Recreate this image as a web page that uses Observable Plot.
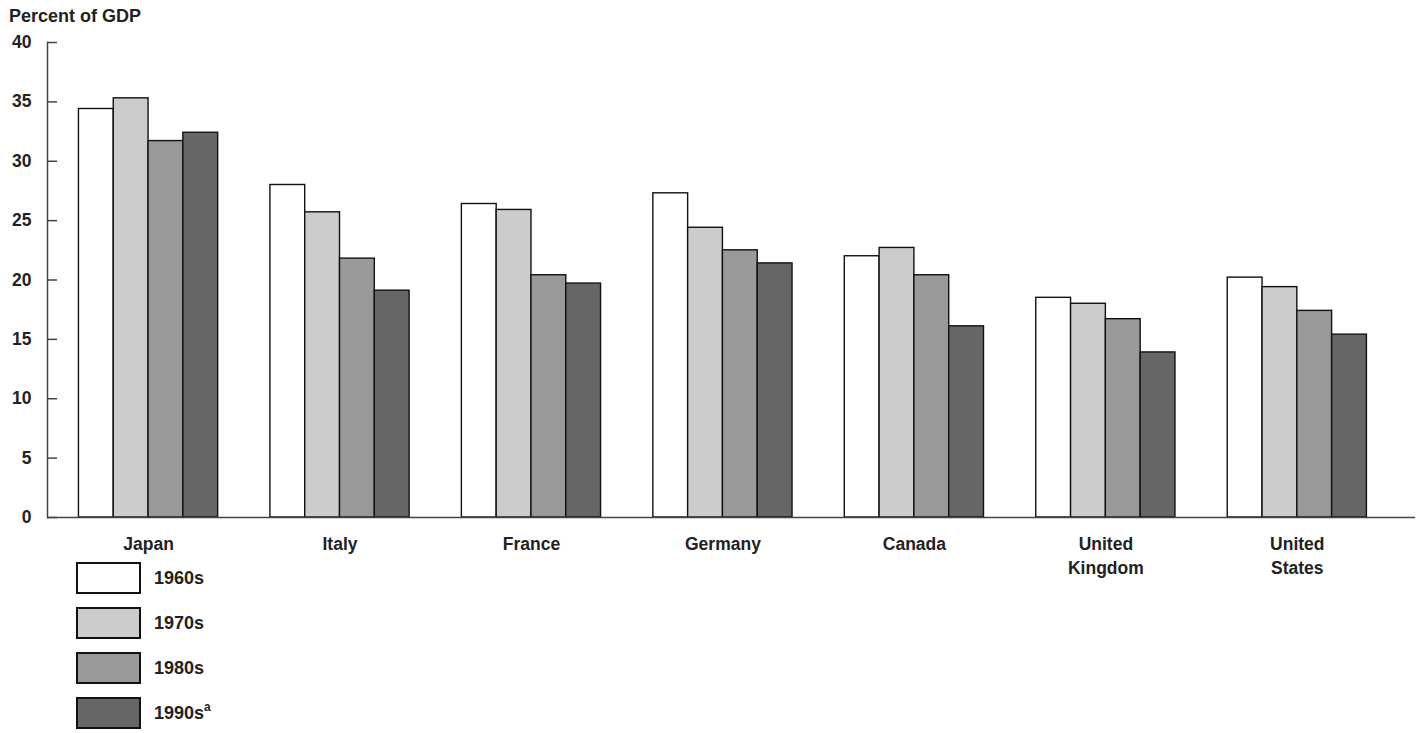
<!DOCTYPE html>
<html>
<head>
<meta charset="utf-8">
<script src="https://cdn.jsdelivr.net/npm/d3@7"></script>
<script src="https://cdn.jsdelivr.net/npm/@observablehq/plot@0.6"></script>
<style>
  html, body { margin: 0; padding: 0; background: #fff; }
  body { font-family: "Liberation Sans", Arial, Helvetica, sans-serif; color: #222; width: 1422px; }
  #title { font-size: 18px; font-weight: bold; line-height: 20px; height: 20px; padding: 6px 0 0 9px; }
  #legend { margin-left: 76px; }
  .row { display: flex; align-items: flex-start; height: 45px; }
  .sw { width: 65px; height: 32px; box-sizing: border-box; border: 2px solid #111; }
  .lab { margin-left: 13px; font-size: 18px; font-weight: bold; line-height: 32px; }
  .lab sup { font-size: 12px; vertical-align: 8px; line-height: 0; }
</style>
</head>
<body>
<div id="title">Percent of GDP</div>
<div id="chart"></div>
<div id="legend"></div>
<script>
const countries = ["Japan", "Italy", "France", "Germany", "Canada", "United Kingdom", "United States"];
const decades = ["1960s", "1970s", "1980s", "1990s"];
const decadeLabels = ["1960s", "1970s", "1980s", "1990s<sup>a</sup>"];
const v1960s = [34.4, 28.0, 26.4, 27.3, 22.0, 18.5, 20.2];
const v1970s = [35.3, 25.7, 25.9, 24.4, 22.7, 18.0, 19.4];
const v1980s = [31.7, 21.8, 20.4, 22.5, 20.4, 16.7, 17.4];
const v1990s = [32.4, 19.1, 19.7, 21.4, 16.1, 13.9, 15.4];
const colors = ["#ffffff", "#cccccc", "#999999", "#666666"];
const yTicks = [0, 5, 10, 15, 20, 25, 30, 35, 40];

const series = [v1960s, v1970s, v1980s, v1990s];
const data = [];
decades.forEach((dec, i) => countries.forEach((c, j) => data.push({country: c, decade: dec, value: series[i][j]})));

const W = 1422, H = 536;
const mL = 47, mR = 7, mT = 16, mB = 45;
const xOpts = {type: "band", domain: countries, range: [mL, W - mR], paddingInner: 0.273, paddingOuter: 0.209, align: 0.393, round: false};
const bw = Plot.scale({x: xOpts}).bandwidth;
const sub = bw / decades.length;

const marks = [];
decades.forEach((dec, i) => {
  marks.push(Plot.barY(data.filter(d => d.decade === dec), {
    x: "country", y: "value", fill: "decade",
    stroke: "#111", strokeWidth: 1.4,
    insetLeft: i * sub, insetRight: (decades.length - 1 - i) * sub
  }));
});

const chart = Plot.plot({
  width: W, height: H,
  marginLeft: mL, marginRight: mR, marginTop: mT, marginBottom: mB,
  style: {fontFamily: "Liberation Sans, Arial, sans-serif", overflow: "visible", background: "transparent"},
  x: {domain: countries, paddingInner: 0.273, paddingOuter: 0.209, align: 0.393, round: false, axis: null},
  y: {domain: [0, 40], axis: null},
  color: {domain: decades, range: colors},
  marks: [
    ...marks,
    Plot.ruleY([0], {stroke: "#444", strokeWidth: 1.5}),
    Plot.frame({anchor: "left", stroke: "#444", strokeWidth: 1.5}),
    Plot.axisY(yTicks, {tickSize: -10, tickPadding: 26, stroke: "#444", strokeWidth: 1.5, fill: "#222", fontSize: 17.5, fontWeight: "bold", label: null}),
    Plot.axisX({tickSize: 0, tickPadding: 15, fontSize: 17.5, fontWeight: "bold", fill: "#222", lineHeight: 1.38, label: null,
      tickFormat: d => d.replace(" ", "\n")})
  ]
});
document.getElementById("chart").appendChild(chart);

const legend = document.getElementById("legend");
decades.forEach((dec, i) => {
  const row = document.createElement("div");
  row.className = "row";
  row.innerHTML = `<div class="sw" style="background:${colors[i]}"></div><div class="lab">${decadeLabels[i]}</div>`;
  legend.appendChild(row);
});
</script>
</body>
</html>
